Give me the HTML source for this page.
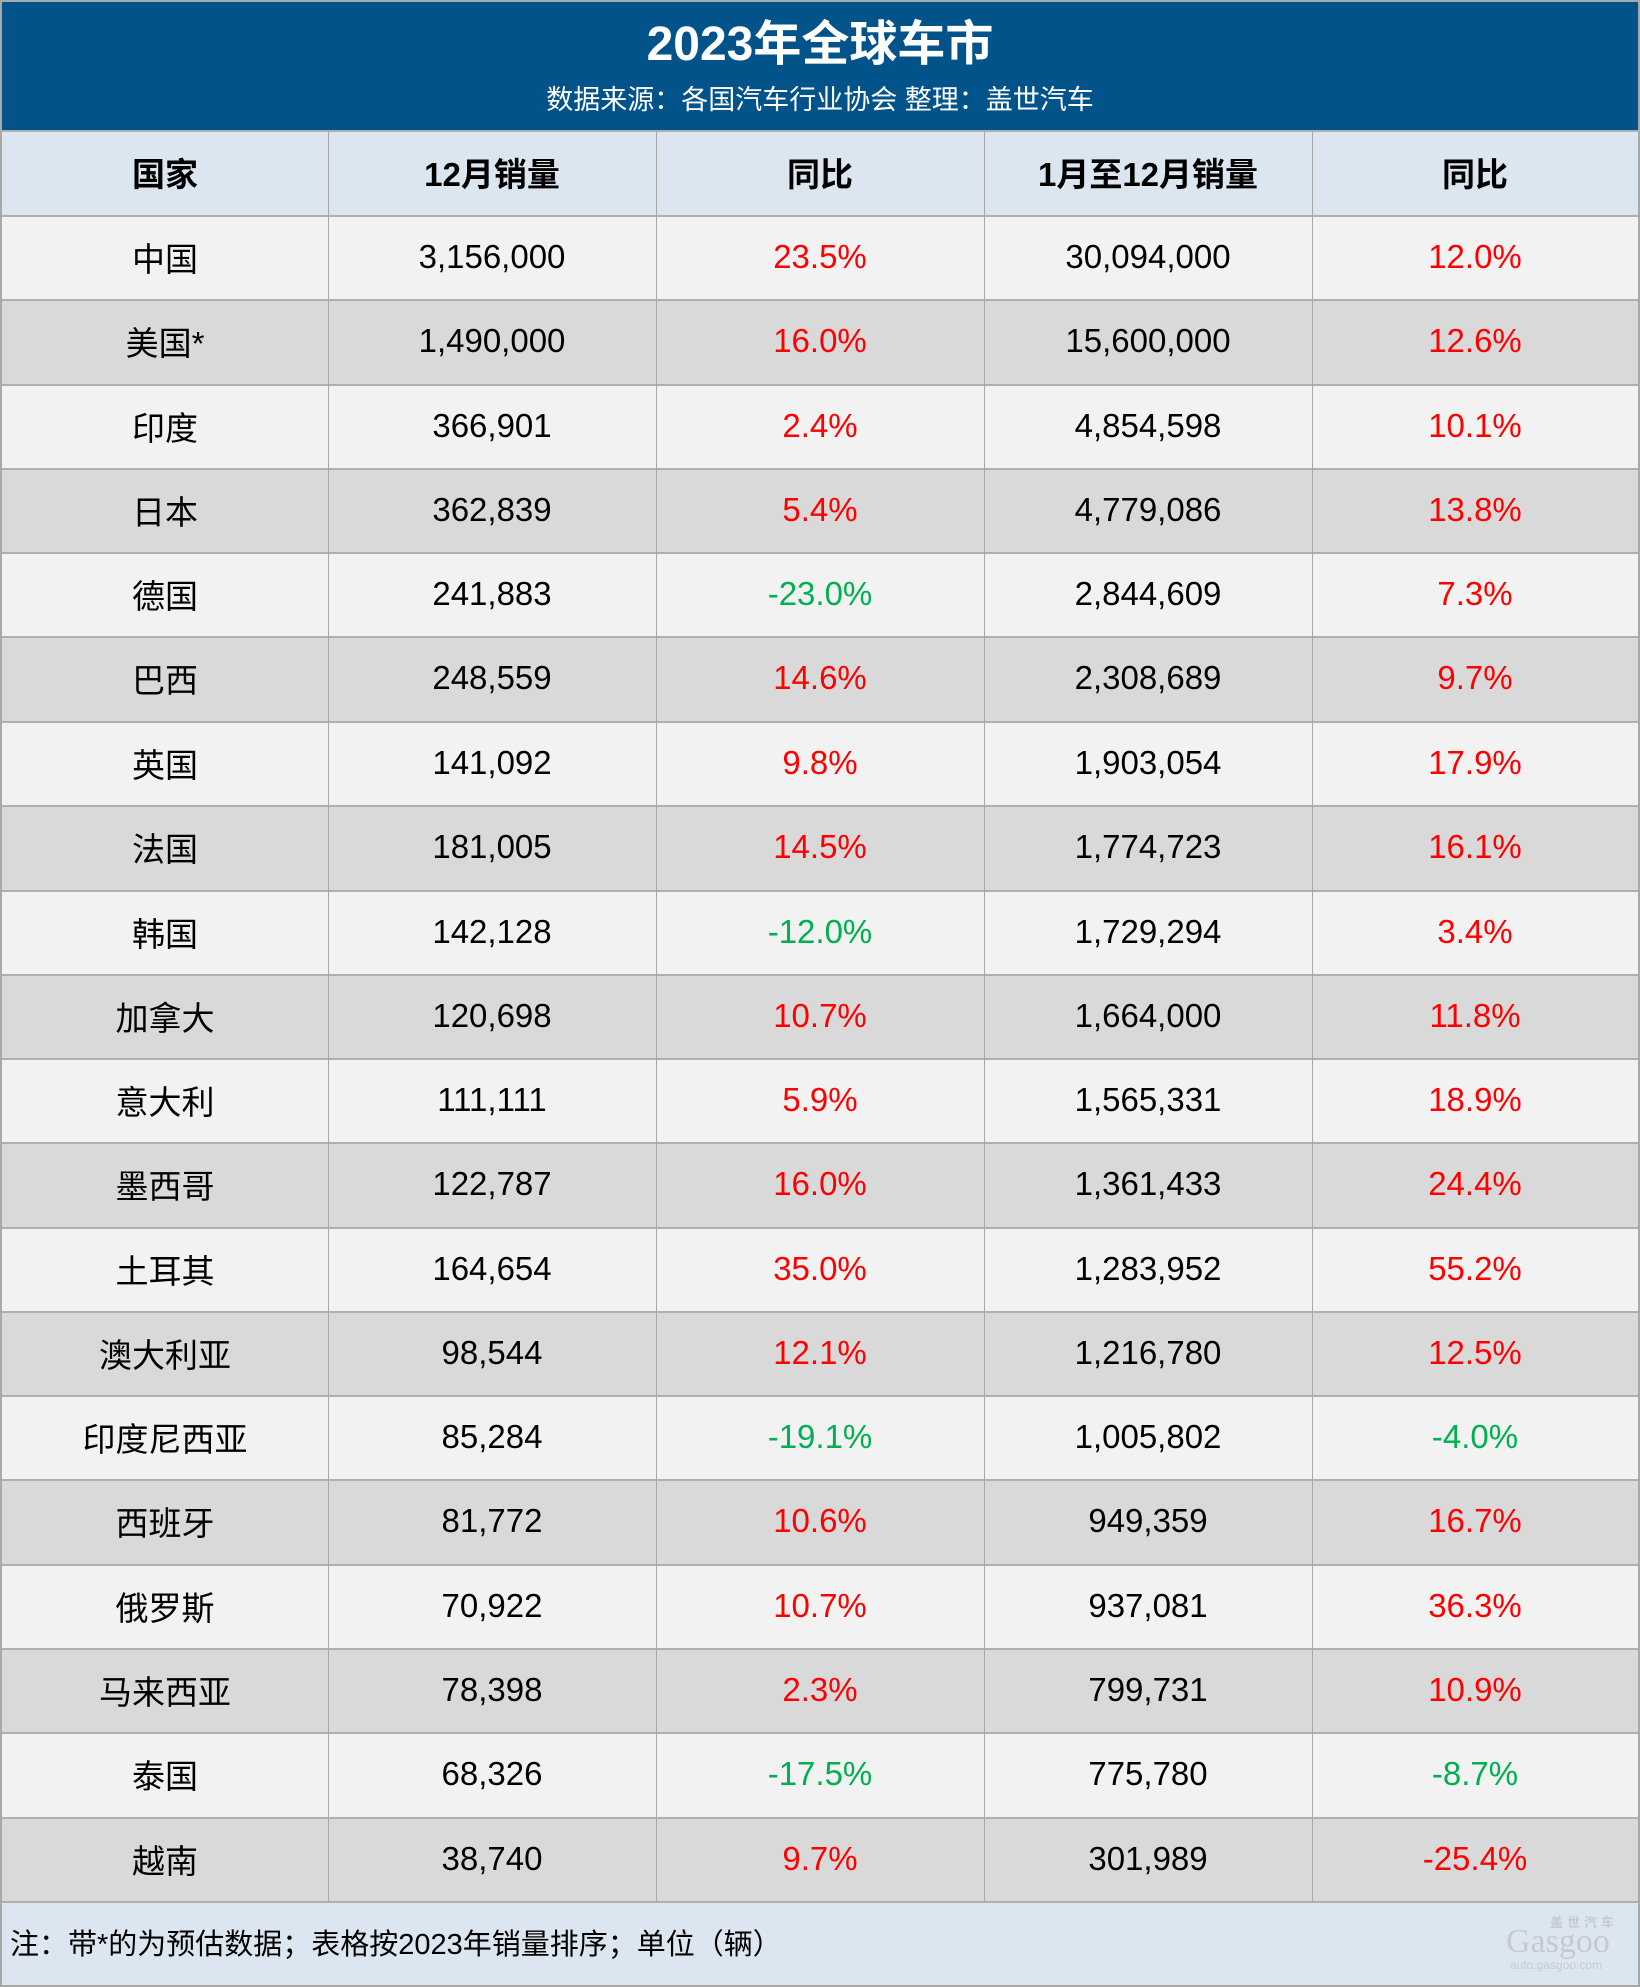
<!DOCTYPE html>
<html><head><meta charset="utf-8">
<style>
*{margin:0;padding:0;box-sizing:border-box}
html,body{width:1640px;height:1987px;overflow:hidden;background:#A9A9A9}
body{position:relative;font-family:"Liberation Sans","Noto Sans CJK SC",sans-serif;color:#000}
.abs{position:absolute}
.band{left:2px;top:2px;width:1636px;height:128px;background:#02538A}
.title{left:0;width:1640px;top:17px;height:56px;line-height:56px;text-align:center;color:#fff;font-size:48px;font-weight:bold}
.sub{left:0;width:1640px;top:83px;height:34px;line-height:34px;text-align:center;color:#fff;font-size:27px}
.row{left:2px;width:1636px;border-top:2px solid #AFAFAF}
.c{position:absolute;top:0;height:100%;text-align:center;font-size:33px;display:flex;align-items:center;justify-content:center;padding-bottom:3px}
.c0{left:0;width:326px}.c1{left:326px;width:328px}.c2{left:654px;width:328px}.c3{left:982px;width:328px}.c4{left:1310px;width:326px}
.hd{background:#DCE6F1;font-weight:bold}
.a{background:#F2F2F2}.b{background:#D9D9D9}
.r{color:#FF0000}.g{color:#00B050}
.vl{top:130px;height:1772px;width:1.5px;background:#A8A8A8}
.foot{left:2px;top:1901px;width:1636px;height:84px;background:#DCE6F1;border-top:2px solid #AFAFAF}
.ft{left:10px;top:1927px;height:36px;line-height:36px;font-size:29px}
.wm{color:#C6CAD0;font-family:"Liberation Serif","Noto Serif CJK SC",serif}
</style></head><body>
<div class="abs band"></div>
<div class="abs title">2023年全球车市</div>
<div class="abs sub">数据来源：各国汽车行业协会 整理：盖世汽车</div>

<div class="abs row hd" style="top:130px;height:85px"><div class="c c0">国家</div><div class="c c1">12月销量</div><div class="c c2">同比</div><div class="c c3">1月至12月销量</div><div class="c c4">同比</div></div>

<div class="abs row a" style="top:215px;height:84px"><div class="c c0">中国</div><div class="c c1">3,156,000</div><div class="c c2 r">23.5%</div><div class="c c3">30,094,000</div><div class="c c4 r">12.0%</div></div>
<div class="abs row b" style="top:299px;height:85px"><div class="c c0">美国*</div><div class="c c1">1,490,000</div><div class="c c2 r">16.0%</div><div class="c c3">15,600,000</div><div class="c c4 r">12.6%</div></div>
<div class="abs row a" style="top:384px;height:84px"><div class="c c0">印度</div><div class="c c1">366,901</div><div class="c c2 r">2.4%</div><div class="c c3">4,854,598</div><div class="c c4 r">10.1%</div></div>
<div class="abs row b" style="top:468px;height:84px"><div class="c c0">日本</div><div class="c c1">362,839</div><div class="c c2 r">5.4%</div><div class="c c3">4,779,086</div><div class="c c4 r">13.8%</div></div>
<div class="abs row a" style="top:552px;height:84px"><div class="c c0">德国</div><div class="c c1">241,883</div><div class="c c2 g">-23.0%</div><div class="c c3">2,844,609</div><div class="c c4 r">7.3%</div></div>
<div class="abs row b" style="top:636px;height:85px"><div class="c c0">巴西</div><div class="c c1">248,559</div><div class="c c2 r">14.6%</div><div class="c c3">2,308,689</div><div class="c c4 r">9.7%</div></div>
<div class="abs row a" style="top:721px;height:84px"><div class="c c0">英国</div><div class="c c1">141,092</div><div class="c c2 r">9.8%</div><div class="c c3">1,903,054</div><div class="c c4 r">17.9%</div></div>
<div class="abs row b" style="top:805px;height:85px"><div class="c c0">法国</div><div class="c c1">181,005</div><div class="c c2 r">14.5%</div><div class="c c3">1,774,723</div><div class="c c4 r">16.1%</div></div>
<div class="abs row a" style="top:890px;height:84px"><div class="c c0">韩国</div><div class="c c1">142,128</div><div class="c c2 g">-12.0%</div><div class="c c3">1,729,294</div><div class="c c4 r">3.4%</div></div>
<div class="abs row b" style="top:974px;height:84px"><div class="c c0">加拿大</div><div class="c c1">120,698</div><div class="c c2 r">10.7%</div><div class="c c3">1,664,000</div><div class="c c4 r">11.8%</div></div>
<div class="abs row a" style="top:1058px;height:84px"><div class="c c0">意大利</div><div class="c c1">111,111</div><div class="c c2 r">5.9%</div><div class="c c3">1,565,331</div><div class="c c4 r">18.9%</div></div>
<div class="abs row b" style="top:1142px;height:85px"><div class="c c0">墨西哥</div><div class="c c1">122,787</div><div class="c c2 r">16.0%</div><div class="c c3">1,361,433</div><div class="c c4 r">24.4%</div></div>
<div class="abs row a" style="top:1227px;height:84px"><div class="c c0">土耳其</div><div class="c c1">164,654</div><div class="c c2 r">35.0%</div><div class="c c3">1,283,952</div><div class="c c4 r">55.2%</div></div>
<div class="abs row b" style="top:1311px;height:84px"><div class="c c0">澳大利亚</div><div class="c c1">98,544</div><div class="c c2 r">12.1%</div><div class="c c3">1,216,780</div><div class="c c4 r">12.5%</div></div>
<div class="abs row a" style="top:1395px;height:84px"><div class="c c0">印度尼西亚</div><div class="c c1">85,284</div><div class="c c2 g">-19.1%</div><div class="c c3">1,005,802</div><div class="c c4 g">-4.0%</div></div>
<div class="abs row b" style="top:1479px;height:85px"><div class="c c0">西班牙</div><div class="c c1">81,772</div><div class="c c2 r">10.6%</div><div class="c c3">949,359</div><div class="c c4 r">16.7%</div></div>
<div class="abs row a" style="top:1564px;height:84px"><div class="c c0">俄罗斯</div><div class="c c1">70,922</div><div class="c c2 r">10.7%</div><div class="c c3">937,081</div><div class="c c4 r">36.3%</div></div>
<div class="abs row b" style="top:1648px;height:84px"><div class="c c0">马来西亚</div><div class="c c1">78,398</div><div class="c c2 r">2.3%</div><div class="c c3">799,731</div><div class="c c4 r">10.9%</div></div>
<div class="abs row a" style="top:1732px;height:85px"><div class="c c0">泰国</div><div class="c c1">68,326</div><div class="c c2 g">-17.5%</div><div class="c c3">775,780</div><div class="c c4 g">-8.7%</div></div>
<div class="abs row b" style="top:1817px;height:84px"><div class="c c0">越南</div><div class="c c1">38,740</div><div class="c c2 r">9.7%</div><div class="c c3">301,989</div><div class="c c4 r">-25.4%</div></div>

<div class="abs vl" style="left:327.5px"></div>
<div class="abs vl" style="left:655.5px"></div>
<div class="abs vl" style="left:983.5px"></div>
<div class="abs vl" style="left:1311.5px"></div>

<div class="abs foot"></div>
<div class="abs ft">注：带*的为预估数据；表格按2023年销量排序；单位（辆）</div>

<div class="abs wm" style="left:1550px;top:1914px;font-size:13px;line-height:15px;letter-spacing:4px;font-family:'Noto Sans CJK SC',sans-serif;font-weight:bold">盖世汽车</div>
<div class="abs wm" style="left:1506px;top:1926px;font-size:34px;line-height:32px">Gasgoo</div>
<div class="abs wm" style="left:1510px;top:1958px;font-size:12px;line-height:14px;font-family:'Liberation Sans',sans-serif">auto.gasgoo.com</div>
</body></html>
